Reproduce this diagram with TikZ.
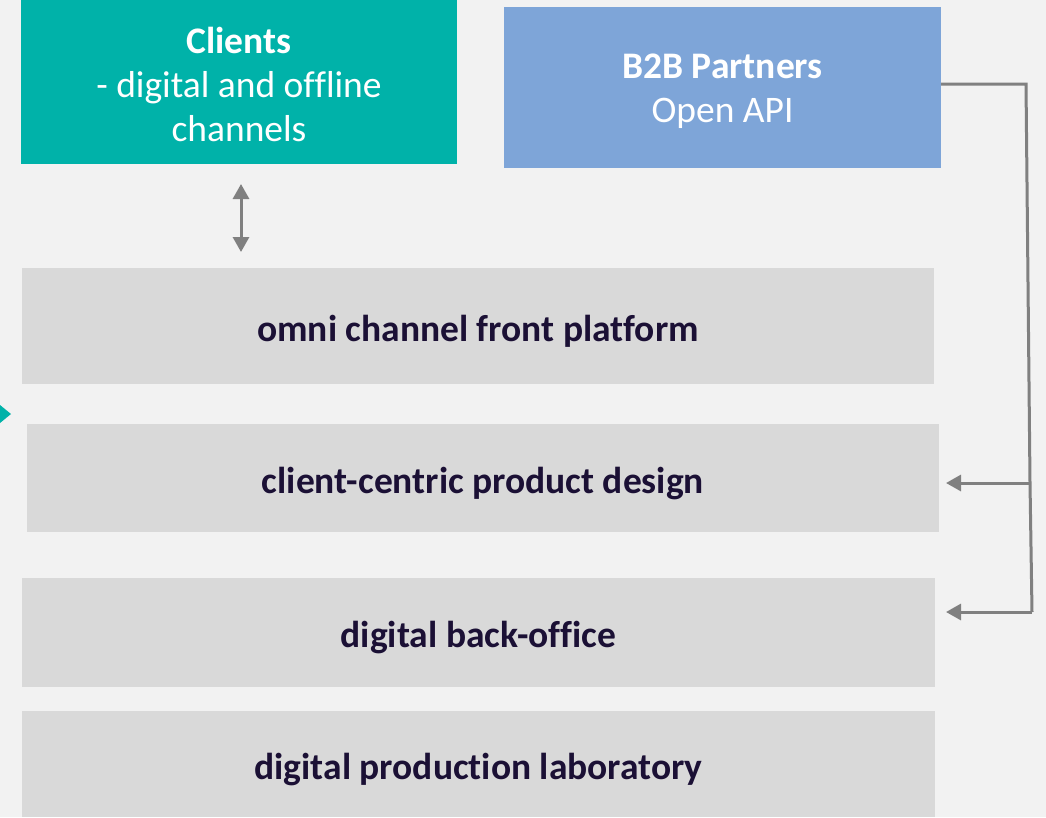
\documentclass[tikz,border=0pt]{standalone}
\usepackage{fontspec}
\setmainfont{Carlito}[Ligatures={NoCommon}]
\usetikzlibrary{arrows.meta}
\definecolor{bg}{HTML}{F2F2F2}
\definecolor{teal}{HTML}{00B2A9}
\definecolor{partner}{HTML}{7EA5D8}
\definecolor{layer}{HTML}{D9D9D9}
\definecolor{ink}{HTML}{1B1035}
\definecolor{link}{HTML}{808080}
\begin{document}
\begin{tikzpicture}[x=1pt,y=-1pt,
  >={Triangle[length=15pt,width=16pt]},
  box/.style={anchor=north west,inner sep=0pt,outer sep=0pt},
  layerbox/.style={box,fill=layer,text=ink,font=\fontsize{37.5}{44}\selectfont\bfseries,
    text height=37pt,text depth=7pt},
  headbox/.style={box},
  headtext/.style={text=white,align=center,inner sep=0pt,font=\fontsize{37.5}{44}\selectfont},
  link line/.style={draw=link,line width=3pt},
  conn/.style={link line,->}]
\fill[bg] (0,0) rectangle (1046,817);
\useasboundingbox (0,0) rectangle (1046,817);
% top row: clients and partners
\node[headbox,fill=teal,minimum width=436pt,minimum height=164pt,
  label={[headtext,yshift=-2pt]center:\textbf{Clients}\\- digital and offline\\channels}] (clients) at (21,0) {};
\node[headbox,fill=partner,minimum width=437pt,minimum height=161pt,
  label={[headtext,yshift=-4pt]center:\textbf{B2B Partners}\\Open API}] (b2b) at (504,7) {};
% platform layers
\node[layerbox,minimum width=912pt,minimum height=116pt] (omni) at (22,268) {omni channel front platform};
\node[layerbox,minimum width=912pt,minimum height=108pt] (design) at (27,424) {client-centric product design};
\node[layerbox,minimum width=913pt,minimum height=109pt] (back) at (22,578) {digital back-office};
\node[layerbox,minimum width=913pt,minimum height=106pt] (lab) at (22,711) {digital production laboratory};
% clients <-> front platform
\coordinate (dtop) at (241,184);
\coordinate (dbot) at (241,252);
\draw[link line,<->] (dtop) -- (dbot);
% partner bus on the right
\coordinate (busTop) at (1026,84);
\coordinate (busMid) at (1030,483);
\coordinate (busBot) at (1032,612);
\draw[link line,line join=miter] (b2b.east |- busTop) -- (busTop) -- (busMid) -- (busBot);
\draw[conn] (busMid) -- (946,483);
\draw[conn] (busBot) -- (946,612);
% marker at the left edge
\fill[teal] (0,405) -- (11,414) -- (0,423) -- cycle;
\end{tikzpicture}
\end{document}
